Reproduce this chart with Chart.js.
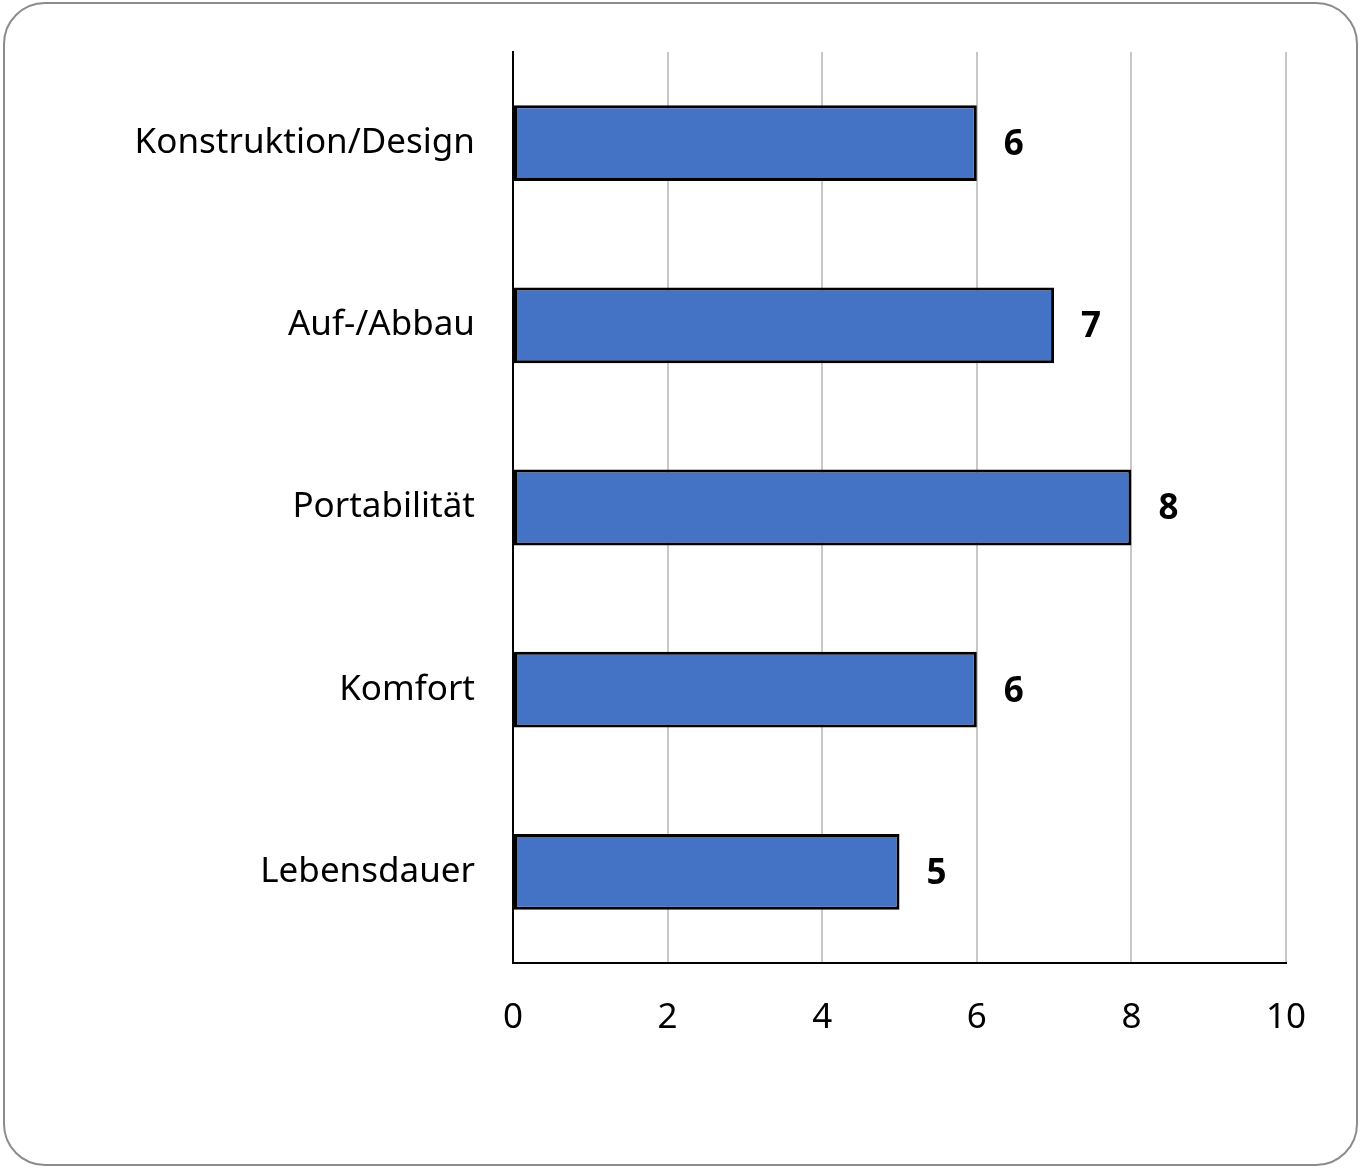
<!DOCTYPE html>
<html>
<head>
<meta charset="utf-8">
<script src="https://cdn.jsdelivr.net/npm/chart.js@4"></script>
<style>
    html, body { margin: 0; padding: 0; background: #ffffff; }
    #frame {
        position: absolute; left: 3px; top: 2px;
        width: 1351px; height: 1160px;
        border: 2px solid #8c8c8c; border-radius: 42px;
    }
    #wrap { position: absolute; left: 0; top: 0; width: 1365px; height: 1173px; }
</style>
</head>
<body>
<div id="frame"></div>
<div id="wrap"><canvas id="chart"></canvas></div>
<script>
// Datos del gráfico
const categorias = ['Konstruktion/Design', 'Auf-/Abbau', 'Portabilität', 'Komfort', 'Lebensdauer'];
const valores = [6, 7, 8, 6, 5];
const ejeMin = 0;
const ejeMax = 10;
const ejePaso = 2;

const fuente = "'Noto Sans', 'Open Sans', sans-serif";

// Plugin sencillo para dibujar los valores a la derecha de cada barra
const etiquetasValor = {
    id: 'etiquetasValor',
    afterDatasetsDraw(chart) {
        const ctx = chart.ctx;
        const meta = chart.getDatasetMeta(0);
        ctx.save();
        ctx.font = "bold 35px " + fuente;
        ctx.fillStyle = '#000000';
        ctx.textAlign = 'left';
        ctx.textBaseline = 'middle';
        meta.data.forEach((bar, i) => {
            ctx.fillText(String(valores[i]), bar.x + 27, bar.y + 2);
        });
        ctx.restore();
    }
};

const ctx = document.getElementById('chart');
new Chart(ctx.getContext('2d'), {
    type: 'bar',
    data: {
        labels: categorias,
        datasets: [{
            data: valores,
            backgroundColor: '#4472C4',
            borderColor: '#000000',
            borderWidth: 3,
            borderSkipped: false,
            categoryPercentage: 0.8,
            barPercentage: 0.52
        }]
    },
    options: {
        indexAxis: 'y',
        responsive: true,
        maintainAspectRatio: false,
        animation: false,
        layout: {
            padding: { top: 52, right: 79, bottom: 0, left: 0 }
        },
        plugins: {
            legend: { display: false },
            tooltip: { enabled: false }
        },
        scales: {
            x: {
                min: ejeMin,
                max: ejeMax,
                ticks: {
                    stepSize: ejePaso,
                    padding: 34,
                    color: '#000000',
                    font: { family: fuente, size: 35 }
                },
                grid: {
                    color: '#c8c8c8',
                    lineWidth: 2,
                    drawTicks: false
                },
                border: { display: true, color: '#000000', width: 2 },
                afterFit(scale) {
                    scale.height = 1173 - 963;
                    scale.paddingLeft = 0;
                    scale.paddingRight = 0;
                }
            },
            y: {
                ticks: {
                    padding: 38,
                    color: '#000000',
                    font: { family: fuente, size: 35 }
                },
                grid: { display: false, drawTicks: false },
                border: { display: true, color: '#000000', width: 2 },
                afterFit(scale) {
                    scale.width = 513;
                    scale.paddingTop = 0;
                    scale.paddingBottom = 0;
                }
            }
        }
    },
    plugins: [etiquetasValor]
});
</script>
</body>
</html>
